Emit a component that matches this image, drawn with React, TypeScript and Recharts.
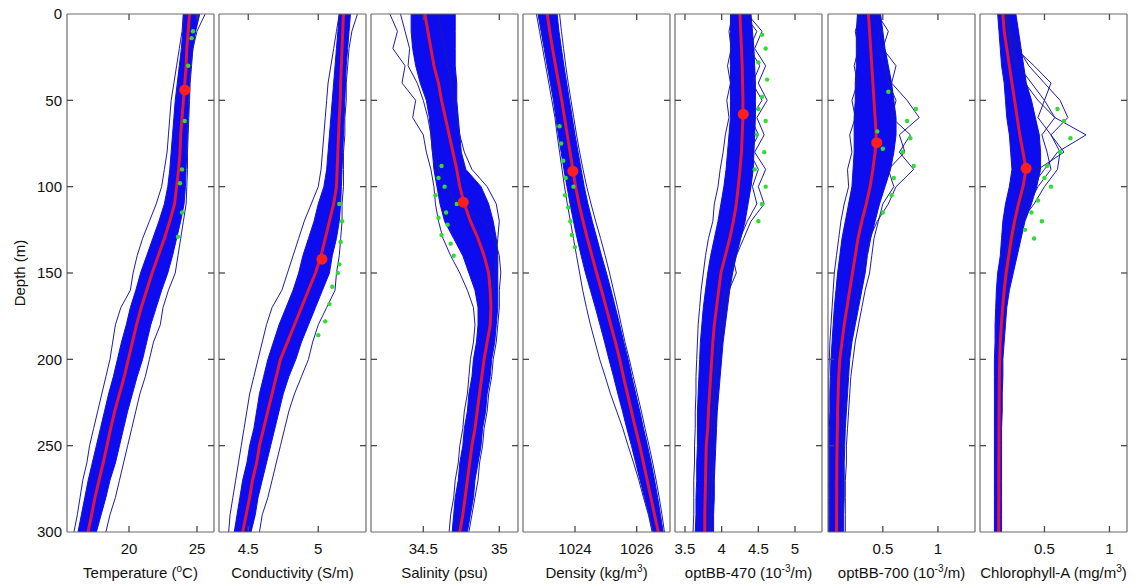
import React from 'react';
import { ComposedChart, Area, Line, Scatter, XAxis, YAxis } from 'recharts';

// ---------- shared depth grid (m) ----------
const DEPTHS = [0, 10, 20, 30, 40, 50, 60, 70, 80, 90, 100, 110, 120, 130, 140, 150, 160, 170, 180, 190, 200, 210, 220, 230, 240, 250, 260, 270, 280, 290, 300];
const DEPTH_TICKS = [0, 50, 100, 150, 200, 250, 300];

// ---------- Temperature ----------
const TEMP_MEAN = [24.45, 24.35, 24.25, 24.2, 24.1, 24.0, 23.9, 23.8, 23.75, 23.65, 23.5, 23.35, 23.0, 22.6, 22.15, 21.7, 21.3, 20.9, 20.55, 20.25, 19.95, 19.65, 19.3, 18.95, 18.65, 18.38, 18.1, 17.8, 17.5, 17.25, 16.99];
const TEMP_LO = [24.0, 23.95, 23.85, 23.7, 23.55, 23.4, 23.3, 23.2, 23.1, 23.0, 22.85, 22.6, 22.2, 21.75, 21.3, 20.85, 20.5, 20.1, 19.8, 19.45, 19.15, 18.85, 18.5, 18.2, 17.9, 17.6, 17.3, 17.0, 16.75, 16.5, 16.25];
const TEMP_HI = [25.2, 24.9, 24.7, 24.55, 24.45, 24.4, 24.35, 24.3, 24.25, 24.2, 24.15, 24.05, 23.8, 23.5, 23.2, 22.85, 22.4, 22.0, 21.6, 21.3, 21.0, 20.6, 20.25, 19.9, 19.6, 19.3, 19.0, 18.6, 18.3, 17.95, 17.6];
const TEMP_OUT_A = [24.0, 23.9, 23.7, 23.5, 23.3, 23.1, 23.0, 22.9, 22.8, 22.6, 22.4, 22.0, 21.5, 21.0, 20.6, 20.3, 20.1, 19.4, 19.0, 18.8, 18.6, 18.3, 18.0, 17.7, 17.4, 17.1, 16.9, 16.6, 16.4, 16.2, 15.95];
const TEMP_OUT_B = [25.6, 25.0, 24.7, 24.6, 24.5, 24.45, 24.4, 24.35, 24.3, 24.3, 24.25, 24.2, 24.0, 23.8, 23.6, 23.4, 22.9, 22.5, 22.3, 21.8, 21.5, 21.2, 20.8, 20.5, 20.2, 19.9, 19.6, 19.3, 19.0, 18.6, 18.3];
const TEMP_GREEN_DEPTH = [10, 14, 30, 62, 90, 98, 115, 129];
const TEMP_GREEN_VAL = [24.7, 24.6, 24.35, 24.1, 23.9, 23.75, 23.9, 23.6];
const TEMP_DOT = [44, 24.1];
const TEMP_TICKS = [20, 25];

// ---------- Conductivity ----------
const COND_MEAN = [5.18, 5.175, 5.17, 5.165, 5.16, 5.157, 5.15, 5.145, 5.14, 5.135, 5.13, 5.11, 5.08, 5.05, 5.02, 4.98, 4.93, 4.88, 4.83, 4.78, 4.73, 4.7, 4.67, 4.64, 4.61, 4.58, 4.56, 4.53, 4.51, 4.485, 4.46];
const COND_LO = [5.15, 5.14, 5.13, 5.12, 5.11, 5.1, 5.09, 5.08, 5.07, 5.06, 5.04, 5.0, 4.97, 4.93, 4.89, 4.86, 4.82, 4.77, 4.72, 4.68, 4.64, 4.61, 4.58, 4.56, 4.54, 4.51, 4.49, 4.46, 4.44, 4.42, 4.4];
const COND_HI = [5.23, 5.22, 5.21, 5.2, 5.195, 5.19, 5.185, 5.18, 5.175, 5.17, 5.165, 5.16, 5.15, 5.13, 5.1, 5.08, 5.03, 4.98, 4.93, 4.88, 4.84, 4.79, 4.75, 4.72, 4.69, 4.66, 4.63, 4.6, 4.57, 4.55, 4.52];
const COND_OUT_A = [5.15, 5.13, 5.11, 5.09, 5.07, 5.06, 5.05, 5.04, 5.03, 5.02, 5.0, 4.95, 4.9, 4.86, 4.82, 4.78, 4.74, 4.67, 4.63, 4.6, 4.57, 4.54, 4.51, 4.49, 4.47, 4.45, 4.43, 4.41, 4.39, 4.37, 4.36];
const COND_OUT_B = [5.28, 5.24, 5.22, 5.21, 5.2, 5.2, 5.19, 5.19, 5.18, 5.18, 5.18, 5.17, 5.17, 5.16, 5.15, 5.13, 5.12, 5.06, 5.0, 4.96, 4.93, 4.88, 4.83, 4.79, 4.76, 4.73, 4.7, 4.67, 4.64, 4.6, 4.58];
const COND_GREEN_DEPTH = [110, 120, 132, 145, 150, 158, 168, 178, 186];
const COND_GREEN_VAL = [5.15, 5.17, 5.16, 5.15, 5.14, 5.1, 5.08, 5.05, 5.0];
const COND_DOT = [142, 5.026];
const COND_TICKS = [4.5, 5];

// ---------- Salinity ----------
const SAL_MEAN = [34.51, 34.53, 34.55, 34.57, 34.6, 34.62, 34.645, 34.67, 34.695, 34.72, 34.74, 34.77, 34.81, 34.86, 34.9, 34.93, 34.94, 34.945, 34.94, 34.92, 34.9, 34.885, 34.87, 34.855, 34.84, 34.82, 34.805, 34.79, 34.775, 34.76, 34.74];
const SAL_LO = [34.42, 34.42, 34.43, 34.45, 34.48, 34.52, 34.54, 34.55, 34.56, 34.57, 34.59, 34.61, 34.64, 34.7, 34.76, 34.8, 34.84, 34.86, 34.86, 34.85, 34.83, 34.82, 34.8, 34.79, 34.77, 34.76, 34.74, 34.73, 34.71, 34.7, 34.69];
const SAL_HI = [34.71, 34.71, 34.71, 34.71, 34.72, 34.72, 34.73, 34.74, 34.75, 34.78, 34.88, 34.93, 34.96, 34.98, 34.99, 34.99, 34.99, 34.99, 34.98, 34.97, 34.95, 34.94, 34.92, 34.91, 34.89, 34.88, 34.86, 34.84, 34.83, 34.81, 34.79];
const SAL_OUT_A = [34.28, 34.33, 34.3, 34.38, 34.36, 34.45, 34.43, 34.5, 34.52, 34.55, 34.57, 34.58, 34.6, 34.63, 34.68, 34.74, 34.79, 34.83, 34.84, 34.83, 34.81, 34.8, 34.79, 34.77, 34.76, 34.74, 34.73, 34.71, 34.7, 34.68, 34.67];
const SAL_OUT_B = [34.35, 34.38, 34.41, 34.4, 34.46, 34.5, 34.53, 34.55, 34.56, 34.6, 34.65, 34.72, 34.9, 34.97, 35.0, 35.01, 35.0, 35.0, 34.99, 34.98, 34.96, 34.95, 34.93, 34.92, 34.9, 34.89, 34.87, 34.86, 34.84, 34.82, 34.8];
const SAL_OUT_C = [34.6, 34.62, 34.64, 34.66, 34.68, 34.7, 34.72, 34.74, 34.77, 34.82, 34.92, 34.98, 35.0, 34.99, 34.98, 34.97, 34.96, 34.95, 34.94, 34.92, 34.9, 34.88, 34.86, 34.84, 34.82, 34.8, 34.79, 34.77, 34.76, 34.74, 34.72];
const SAL_GREEN_DEPTH = [88, 95, 100, 105, 110, 115, 118, 122, 128, 133, 140];
const SAL_GREEN_VAL = [34.62, 34.6, 34.64, 34.58, 34.72, 34.65, 34.6, 34.66, 34.62, 34.68, 34.7];
const SAL_DOT = [109, 34.763];
const SAL_TICKS = [34.5, 35];

// ---------- Density ----------
const DENS_MEAN = [1023.1, 1023.18, 1023.27, 1023.37, 1023.47, 1023.57, 1023.66, 1023.75, 1023.84, 1023.93, 1024.02, 1024.13, 1024.26, 1024.4, 1024.55, 1024.7, 1024.86, 1025.01, 1025.16, 1025.31, 1025.45, 1025.57, 1025.7, 1025.83, 1025.96, 1026.1, 1026.22, 1026.34, 1026.46, 1026.58, 1026.7];
const DENS_LO = [1022.8, 1022.9, 1023.0, 1023.1, 1023.2, 1023.3, 1023.38, 1023.46, 1023.55, 1023.64, 1023.74, 1023.84, 1023.95, 1024.07, 1024.2, 1024.34, 1024.5, 1024.66, 1024.81, 1024.96, 1025.1, 1025.25, 1025.39, 1025.54, 1025.68, 1025.83, 1025.97, 1026.11, 1026.25, 1026.4, 1026.53];
const DENS_HI = [1023.42, 1023.48, 1023.56, 1023.64, 1023.73, 1023.82, 1023.91, 1024.0, 1024.1, 1024.2, 1024.3, 1024.42, 1024.56, 1024.71, 1024.86, 1025.02, 1025.17, 1025.31, 1025.45, 1025.58, 1025.72, 1025.84, 1025.97, 1026.1, 1026.22, 1026.35, 1026.47, 1026.58, 1026.68, 1026.77, 1026.86];
const DENS_OUT_A = [1022.75, 1022.85, 1022.95, 1023.05, 1023.15, 1023.25, 1023.35, 1023.42, 1023.5, 1023.58, 1023.66, 1023.75, 1023.85, 1023.95, 1024.05, 1024.15, 1024.25, 1024.37, 1024.5, 1024.65, 1024.8, 1024.98, 1025.15, 1025.35, 1025.55, 1025.72, 1025.9, 1026.07, 1026.22, 1026.38, 1026.5];
const DENS_OUT_B = [1023.5, 1023.56, 1023.63, 1023.7, 1023.78, 1023.87, 1023.96, 1024.05, 1024.15, 1024.26, 1024.38, 1024.52, 1024.67, 1024.83, 1024.98, 1025.12, 1025.25, 1025.38, 1025.5, 1025.62, 1025.76, 1025.89, 1026.02, 1026.15, 1026.27, 1026.4, 1026.52, 1026.63, 1026.73, 1026.82, 1026.9];
const DENS_GREEN_DEPTH = [65, 75, 85, 95, 100, 105, 112, 120, 128, 135];
const DENS_GREEN_VAL = [1023.5, 1023.55, 1023.62, 1023.7, 1023.95, 1023.68, 1023.78, 1023.85, 1023.9, 1024.0];
const DENS_DOT = [91, 1023.93];
const DENS_TICKS = [1024, 1026];

// ---------- optBB-470 ----------
const BB470_MEAN = [4.25, 4.26, 4.27, 4.28, 4.285, 4.29, 4.29, 4.28, 4.27, 4.25, 4.226, 4.2, 4.16, 4.11, 4.05, 3.99, 3.96, 3.93, 3.9, 3.88, 3.865, 3.85, 3.835, 3.82, 3.81, 3.79, 3.785, 3.78, 3.775, 3.77, 3.77];
const BB470_LO = [4.12, 4.12, 4.12, 4.12, 4.12, 4.12, 4.12, 4.1, 4.08, 4.06, 4.03, 3.99, 3.95, 3.9, 3.85, 3.81, 3.78, 3.75, 3.73, 3.71, 3.7, 3.69, 3.68, 3.67, 3.67, 3.67, 3.66, 3.66, 3.65, 3.65, 3.64];
const BB470_HI = [4.4, 4.42, 4.44, 4.45, 4.46, 4.46, 4.46, 4.45, 4.44, 4.43, 4.4, 4.36, 4.32, 4.26, 4.2, 4.15, 4.11, 4.08, 4.05, 4.02, 4.0, 3.98, 3.96, 3.94, 3.93, 3.92, 3.91, 3.9, 3.9, 3.89, 3.89];
const BB470_OUT_A = [4.35, 4.55, 4.45, 4.6, 4.5, 4.62, 4.48, 4.58, 4.45, 4.6, 4.5, 4.58, 4.4, 4.3, 4.2, 4.12, 4.05, 4.0, 3.98, 3.95, 3.92, 3.9, 3.89, 3.88, 3.86, 3.85, 3.84, 3.83, 3.82, 3.82, 3.81];
const BB470_OUT_B = [4.3, 4.48, 4.38, 4.52, 4.42, 4.55, 4.4, 4.5, 4.38, 4.5, 4.42, 4.48, 4.35, 4.25, 4.15, 4.2, 4.1, 4.05, 4.02, 3.98, 3.95, 3.93, 3.92, 3.9, 3.9, 3.89, 3.88, 3.87, 3.86, 3.86, 3.85];
const BB470_OUT_C = [4.15, 4.1, 4.13, 4.08, 4.12, 4.07, 4.1, 4.05, 4.02, 3.98, 3.95, 3.9, 3.88, 3.82, 3.78, 3.75, 3.72, 3.7, 3.68, 3.67, 3.66, 3.65, 3.65, 3.64, 3.64, 3.63, 3.63, 3.62, 3.62, 3.62, 3.61];
const BB470_GREEN_DEPTH = [12, 20, 28, 38, 48, 55, 62, 70, 80, 90, 100, 110, 120];
const BB470_GREEN_VAL = [4.55, 4.6, 4.5, 4.62, 4.55, 4.5, 4.6, 4.48, 4.58, 4.45, 4.6, 4.55, 4.5];
const BB470_DOT = [58, 4.294];
const BB470_TICKS = [3.5, 4, 4.5, 5];

// ---------- optBB-700 ----------
const BB700_MEAN = [0.37, 0.38, 0.39, 0.4, 0.41, 0.42, 0.43, 0.44, 0.43, 0.41, 0.385, 0.35, 0.31, 0.275, 0.25, 0.225, 0.2, 0.175, 0.15, 0.13, 0.11, 0.1, 0.095, 0.09, 0.088, 0.085, 0.083, 0.082, 0.082, 0.081, 0.08];
const BB700_LO = [0.27, 0.26, 0.26, 0.26, 0.25, 0.25, 0.24, 0.24, 0.24, 0.23, 0.22, 0.19, 0.16, 0.13, 0.11, 0.09, 0.075, 0.06, 0.05, 0.04, 0.03, 0.025, 0.02, 0.02, 0.015, 0.015, 0.015, 0.015, 0.015, 0.015, 0.015];
const BB700_HI = [0.48, 0.5, 0.52, 0.55, 0.58, 0.6, 0.62, 0.62, 0.6, 0.57, 0.52, 0.47, 0.43, 0.39, 0.36, 0.34, 0.31, 0.28, 0.25, 0.22, 0.2, 0.19, 0.18, 0.17, 0.16, 0.155, 0.15, 0.15, 0.15, 0.145, 0.145];
const BB700_OUT_A = [0.45, 0.55, 0.5, 0.62, 0.58, 0.72, 0.83, 0.65, 0.7, 0.55, 0.6, 0.5, 0.46, 0.42, 0.4, 0.38, 0.34, 0.31, 0.28, 0.25, 0.23, 0.21, 0.2, 0.19, 0.18, 0.17, 0.17, 0.16, 0.16, 0.16, 0.16];
const BB700_OUT_B = [0.4, 0.48, 0.45, 0.52, 0.55, 0.62, 0.58, 0.75, 0.65, 0.78, 0.62, 0.55, 0.45, 0.38, 0.35, 0.3, 0.28, 0.24, 0.21, 0.19, 0.17, 0.16, 0.15, 0.15, 0.14, 0.14, 0.14, 0.13, 0.13, 0.13, 0.13];
const BB700_OUT_C = [0.3, 0.25, 0.28, 0.24, 0.27, 0.22, 0.25, 0.2, 0.22, 0.18, 0.19, 0.15, 0.12, 0.1, 0.08, 0.06, 0.05, 0.04, 0.03, 0.02, 0.015, 0.01, 0.01, 0.008, 0.008, 0.008, 0.008, 0.008, 0.008, 0.008, 0.008];
const BB700_GREEN_DEPTH = [45, 55, 62, 68, 72, 78, 80, 88, 95, 105, 115];
const BB700_GREEN_VAL = [0.55, 0.8, 0.72, 0.45, 0.75, 0.5, 0.68, 0.78, 0.6, 0.58, 0.5];
const BB700_DOT = [74.5, 0.445];
const BB700_TICKS = [0.5, 1];

// ---------- Chlorophyll-A ----------
const CHL_MEAN = [0.18, 0.19, 0.21, 0.23, 0.25, 0.27, 0.29, 0.31, 0.335, 0.358, 0.335, 0.3, 0.27, 0.245, 0.225, 0.205, 0.19, 0.178, 0.168, 0.16, 0.155, 0.153, 0.152, 0.151, 0.15, 0.15, 0.149, 0.149, 0.149, 0.148, 0.148];
const CHL_LO = [0.14, 0.15, 0.16, 0.17, 0.19, 0.2, 0.21, 0.23, 0.24, 0.25, 0.23, 0.2, 0.18, 0.17, 0.16, 0.14, 0.13, 0.125, 0.12, 0.12, 0.115, 0.115, 0.115, 0.115, 0.115, 0.115, 0.115, 0.115, 0.115, 0.115, 0.115];
const CHL_HI = [0.28, 0.3, 0.32, 0.34, 0.36, 0.4, 0.43, 0.46, 0.47, 0.47, 0.44, 0.4, 0.35, 0.32, 0.29, 0.26, 0.23, 0.21, 0.2, 0.19, 0.18, 0.18, 0.175, 0.175, 0.17, 0.17, 0.17, 0.17, 0.17, 0.17, 0.17];
const CHL_OUT_A = [0.2, 0.22, 0.24, 0.28, 0.35, 0.45, 0.58, 0.82, 0.6, 0.5, 0.4, 0.32, 0.28, 0.25, 0.22, 0.2, 0.19, 0.18, 0.17, 0.17, 0.16, 0.16, 0.16, 0.16, 0.16, 0.16, 0.16, 0.16, 0.16, 0.16, 0.16];
const CHL_OUT_B = [0.22, 0.25, 0.3, 0.38, 0.5, 0.62, 0.68, 0.55, 0.65, 0.45, 0.38, 0.3, 0.26, 0.23, 0.2, 0.19, 0.18, 0.17, 0.17, 0.16, 0.16, 0.16, 0.16, 0.16, 0.16, 0.16, 0.16, 0.16, 0.16, 0.16, 0.16];
const CHL_OUT_C = [0.2, 0.22, 0.25, 0.3, 0.4, 0.5, 0.45, 0.55, 0.62, 0.6, 0.5, 0.42, 0.32, 0.27, 0.24, 0.22, 0.2, 0.19, 0.18, 0.17, 0.17, 0.16, 0.16, 0.16, 0.16, 0.16, 0.16, 0.16, 0.16, 0.16, 0.16];
const CHL_OUT_D = [0.21, 0.23, 0.28, 0.42, 0.55, 0.5, 0.58, 0.48, 0.52, 0.55, 0.45, 0.38, 0.3, 0.26, 0.23, 0.21, 0.2, 0.18, 0.17, 0.17, 0.16, 0.16, 0.16, 0.16, 0.16, 0.16, 0.16, 0.16, 0.16, 0.16, 0.16];
const CHL_GREEN_DEPTH = [55, 62, 72, 80, 88, 95, 100, 108, 115, 120, 125, 130];
const CHL_GREEN_VAL = [0.6, 0.65, 0.7, 0.62, 0.52, 0.5, 0.55, 0.45, 0.4, 0.48, 0.35, 0.42];
const CHL_DOT = [89.4, 0.359];
const CHL_TICKS = [0.5, 1];

// ---------- styling ----------
const FONT = '"Liberation Sans", Arial, Helvetica, sans-serif';
const TXT = '#111111';
const BOX = '#6b6b6b';
const TICK_COLOR = '#4a4a4a';
const BLUE = '#0c0cee';
const NAVY = '#1c1ca6';
const RED = '#e0163e';
const DOT_RED = '#ff1e1e';
const GREEN = '#30dc30';
const PW = 147;
const PAD = 14;
const TL = 6; // inward tick length
const TW = 1.3; // tick stroke width
const BOTTOM_MARGIN = 11;
const LEFT_MARGIN = 5;

type Title = { pre: string; sup?: string; post?: string };

const PANELS = [
  { left: 67, domain: [15.44, 26.25], ticks: TEMP_TICKS, mean: TEMP_MEAN, lo: TEMP_LO, hi: TEMP_HI, outs: [TEMP_OUT_A, TEMP_OUT_B], gd: TEMP_GREEN_DEPTH, gv: TEMP_GREEN_VAL, dot: TEMP_DOT, title: { pre: 'Temperature (', sup: 'o', post: 'C)' } },
  { left: 219, domain: [4.291, 5.341], ticks: COND_TICKS, mean: COND_MEAN, lo: COND_LO, hi: COND_HI, outs: [COND_OUT_A, COND_OUT_B], gd: COND_GREEN_DEPTH, gv: COND_GREEN_VAL, dot: COND_DOT, title: { pre: 'Conductivity (S/m)' } },
  { left: 371, domain: [34.156, 35.123], ticks: SAL_TICKS, mean: SAL_MEAN, lo: SAL_LO, hi: SAL_HI, outs: [SAL_OUT_A, SAL_OUT_B, SAL_OUT_C], gd: SAL_GREEN_DEPTH, gv: SAL_GREEN_VAL, dot: SAL_DOT, title: { pre: 'Salinity (psu)' } },
  { left: 523, domain: [1022.314, 1027.08], ticks: DENS_TICKS, mean: DENS_MEAN, lo: DENS_LO, hi: DENS_HI, outs: [DENS_OUT_A, DENS_OUT_B], gd: DENS_GREEN_DEPTH, gv: DENS_GREEN_VAL, dot: DENS_DOT, title: { pre: 'Density (kg/m', sup: '3', post: ')' } },
  { left: 675, domain: [3.364, 5.368], ticks: BB470_TICKS, mean: BB470_MEAN, lo: BB470_LO, hi: BB470_HI, outs: [BB470_OUT_A, BB470_OUT_B, BB470_OUT_C], gd: BB470_GREEN_DEPTH, gv: BB470_GREEN_VAL, dot: BB470_DOT, title: { pre: 'optBB-470 (10', sup: '-3', post: '/m)' } },
  { left: 828, domain: [0.003, 1.336], ticks: BB700_TICKS, mean: BB700_MEAN, lo: BB700_LO, hi: BB700_HI, outs: [BB700_OUT_A, BB700_OUT_B, BB700_OUT_C], gd: BB700_GREEN_DEPTH, gv: BB700_GREEN_VAL, dot: BB700_DOT, title: { pre: 'optBB-700 (10', sup: '-3', post: '/m)' } },
  { left: 980, domain: [0.004, 1.135], ticks: CHL_TICKS, mean: CHL_MEAN, lo: CHL_LO, hi: CHL_HI, outs: [CHL_OUT_A, CHL_OUT_B, CHL_OUT_C, CHL_OUT_D], gd: CHL_GREEN_DEPTH, gv: CHL_GREEN_VAL, dot: CHL_DOT, title: { pre: 'Chlorophyll-A (mg/m', sup: '3', post: ')' } },
];

function XTitle(props: any) {
  const vb = props.viewBox || {};
  const t: Title = props.t;
  const cx = vb.x + vb.width / 2;
  const y = vb.y + 46;
  return (
    <text x={cx} y={y} textAnchor="middle" fontSize={15} fontFamily={FONT} fill={TXT}>
      {t.pre}
      {t.sup ? <tspan dy={-6} fontSize={10}>{t.sup}</tspan> : null}
      {t.post ? <tspan dy={6}>{t.post}</tspan> : null}
    </text>
  );
}

function YTitle(props: any) {
  const vb = props.viewBox || {};
  const x = vb.x + 25;
  const y = vb.y + vb.height / 2;
  return (
    <text x={x} y={y} transform={`rotate(-90 ${x} ${y})`} textAnchor="middle" fontSize={15} fontFamily={FONT} fill={TXT}>
      Depth (m)
    </text>
  );
}

const isInnerY = (v: number) => v > 0 && v < 300;

// bottom axis: value label + inward tick mark above the axis line
const BottomTick = (props: any) => {
  const axisY = props.y - BOTTOM_MARGIN;
  return (
    <g>
      <line x1={props.x} y1={axisY} x2={props.x} y2={axisY - TL} stroke={TICK_COLOR} strokeWidth={TW} />
      <text x={props.x} y={props.y} dy="0.71em" textAnchor="middle" fontSize={15} fontFamily={FONT} fill={TXT}>
        {props.payload.value}
      </text>
    </g>
  );
};

// left axis of the first panel: depth label + inward tick mark
const LeftTickLabeled = (props: any) => {
  const v = props.payload.value;
  return (
    <g>
      {isInnerY(v) ? <line x1={props.x} y1={props.y} x2={props.x + TL} y2={props.y} stroke={TICK_COLOR} strokeWidth={TW} /> : null}
      <text x={props.x - LEFT_MARGIN} y={props.y} dy="0.355em" textAnchor="end" fontSize={15} fontFamily={FONT} fill={TXT}>
        {v}
      </text>
    </g>
  );
};

const LeftTick = (props: any) =>
  isInnerY(props.payload.value) ? <line x1={props.x} y1={props.y} x2={props.x + TL} y2={props.y} stroke={TICK_COLOR} strokeWidth={TW} /> : <g />;
const RightTick = (props: any) =>
  isInnerY(props.payload.value) ? <line x1={props.x} y1={props.y} x2={props.x - TL} y2={props.y} stroke={TICK_COLOR} strokeWidth={TW} /> : <g />;
const TopTick = (props: any) => <line x1={props.x} y1={props.y} x2={props.x} y2={props.y + TL} stroke={TICK_COLOR} strokeWidth={TW} />;

const greenShape = (p: any) => <circle cx={p.cx} cy={p.cy} r={2.2} fill={GREEN} />;
const redShape = (p: any) => <circle cx={p.cx} cy={p.cy} r={5.5} fill={DOT_RED} />;

function Panel({ p, first }: { p: any; first: boolean }) {
  const rows = DEPTHS.map((d, i) => {
    const r: any = { depth: d, band: [p.lo[i], p.hi[i]], mean: p.mean[i] };
    p.outs.forEach((o: number[], k: number) => {
      r['o' + k] = o[i];
    });
    return r;
  });
  const green = p.gd.map((d: number, i: number) => ({ depth: d, v: p.gv[i] }));
  const dot = [{ depth: p.dot[0], v: p.dot[1] }];
  const leftW = first ? 67 : 1;
  const ml = first ? 0 : PAD - 1;
  const chartLeft = p.left - leftW - ml;
  const width = ml + leftW + PW + 1 + (PAD - 1);
  return (
    <div style={{ position: 'absolute', left: chartLeft, top: 0 }}>
      <ComposedChart
        layout="vertical"
        width={width}
        height={588}
        data={rows}
        margin={{ top: 13, right: PAD - 1, bottom: 36, left: ml }}
      >
        <XAxis
          xAxisId="b"
          type="number"
          orientation="bottom"
          domain={p.domain}
          allowDataOverflow
          ticks={p.ticks}
          interval={0}
          height={20}
          tickLine={false}
          tickSize={0}
          tickMargin={BOTTOM_MARGIN}
          axisLine={{ stroke: BOX, strokeWidth: 1.2 }}
          tick={BottomTick}
          label={{ content: (lp: any) => <XTitle viewBox={lp.viewBox} t={p.title} /> }}
        />
        <XAxis
          xAxisId="t"
          type="number"
          orientation="top"
          domain={p.domain}
          allowDataOverflow
          ticks={p.ticks}
          interval={0}
          height={1}
          tick={TopTick}
          tickSize={0}
          tickMargin={0}
          tickLine={false}
          axisLine={{ stroke: BOX, strokeWidth: 1.2 }}
        />
        <YAxis
          yAxisId="l"
          type="number"
          dataKey="depth"
          orientation="left"
          width={leftW}
          domain={[0, 300]}
          allowDataOverflow
          ticks={DEPTH_TICKS}
          interval={0}
          tick={first ? LeftTickLabeled : LeftTick}
          tickSize={0}
          tickMargin={0}
          tickLine={false}
          axisLine={{ stroke: BOX, strokeWidth: 1.2 }}
          label={first ? { content: (lp: any) => <YTitle viewBox={lp.viewBox} /> } : undefined}
        />
        <YAxis
          yAxisId="r"
          type="number"
          dataKey="depth"
          orientation="right"
          width={1}
          domain={[0, 300]}
          allowDataOverflow
          ticks={DEPTH_TICKS}
          interval={0}
          tick={RightTick}
          tickSize={0}
          tickMargin={0}
          tickLine={false}
          axisLine={{ stroke: BOX, strokeWidth: 1.2 }}
        />
        <Area
          xAxisId="b"
          yAxisId="l"
          dataKey="band"
          type="linear"
          stroke={BLUE}
          strokeWidth={1}
          fill={BLUE}
          fillOpacity={1}
          dot={false}
          activeDot={false}
          isAnimationActive={false}
        />
        {p.outs.map((_o: number[], k: number) => (
          <Line
            key={'o' + k}
            xAxisId="b"
            yAxisId="l"
            dataKey={'o' + k}
            type="linear"
            stroke={NAVY}
            strokeWidth={1}
            dot={false}
            activeDot={false}
            isAnimationActive={false}
          />
        ))}
        <Scatter xAxisId="b" yAxisId="l" data={green} dataKey="v" shape={greenShape} isAnimationActive={false} />
        <Line
          xAxisId="b"
          yAxisId="l"
          dataKey="mean"
          type="linear"
          stroke={RED}
          strokeWidth={3}
          dot={false}
          activeDot={false}
          isAnimationActive={false}
        />
        <Scatter xAxisId="b" yAxisId="l" data={dot} dataKey="v" shape={redShape} isAnimationActive={false} />
      </ComposedChart>
    </div>
  );
}

export default function App() {
  return (
    <div style={{ position: 'absolute', left: 0, top: 0, width: 1138, height: 588, background: '#ffffff', overflow: 'hidden' }}>
      {PANELS.map((p, i) => (
        <Panel key={i} p={p} first={i === 0} />
      ))}
    </div>
  );
}
